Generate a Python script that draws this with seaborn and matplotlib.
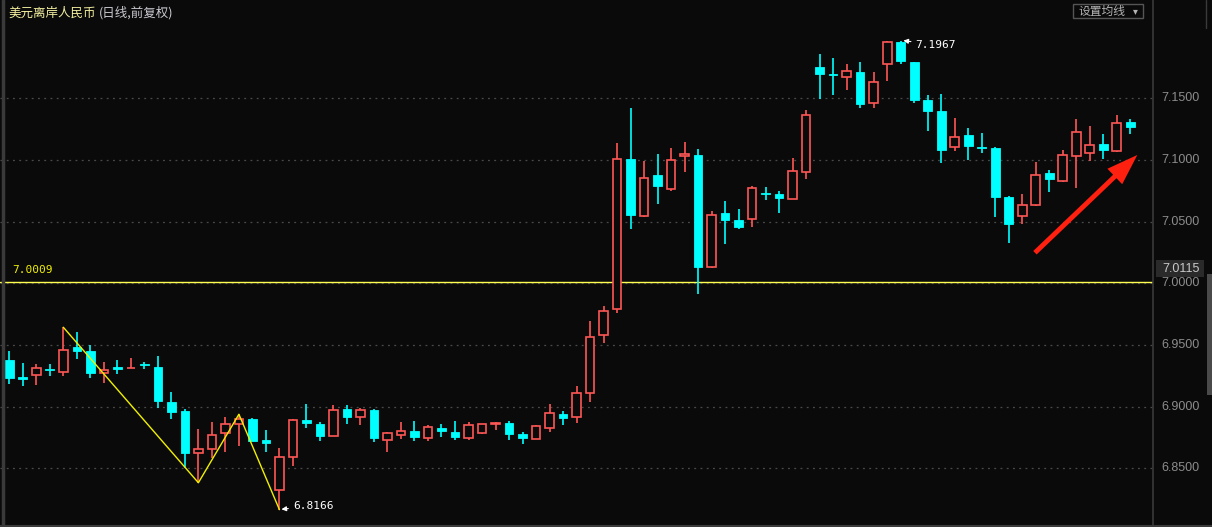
import numpy as np
import pandas as pd
import matplotlib
matplotlib.use('Agg')
import matplotlib.pyplot as plt
from matplotlib.patches import Rectangle
import seaborn as sns

# 美元离岸人民币 日线 (前复权) —— 读图得到的 OHLC
opens = [6.9379, 6.9243, 6.9255, 6.9306, 6.9284, 6.9482, 6.9452, 6.9276, 6.9320, 6.9310,
         6.9344, 6.9322, 6.9038, 6.8965, 6.8622, 6.8655, 6.8785, 6.8858, 6.8901, 6.8730,
         6.8323, 6.8590, 6.8890, 6.8860, 6.8760, 6.8982, 6.8914, 6.8976, 6.8733, 6.8773,
         6.8803, 6.8749, 6.8828, 6.8795, 6.8749, 6.8790, 6.8858, 6.8868, 6.8779, 6.8741,
         6.8830, 6.8941, 6.8914, 6.9109, 6.9579, 6.9795, 7.1008, 7.0548, 7.0878, 7.0762,
         7.1034, 7.1040, 7.0130, 7.0570, 7.0513, 7.0519, 7.0732, 7.0724, 7.0686, 7.0905,
         7.1753, 7.1699, 7.1670, 7.1713, 7.1459, 7.1775, 7.1956, 7.1794, 7.1486, 7.1397,
         7.1102, 7.1202, 7.1105, 7.1097, 7.0699, 7.0543, 7.0637, 7.0894, 7.0832, 7.1034,
         7.1054, 7.1129, 7.1075, 7.1305]
highs = [6.9452, 6.9354, 6.9346, 6.9346, 6.9644, 6.9603, 6.9500, 6.9363, 6.9379, 6.9397,
         6.9365, 6.9411, 6.9119, 6.8979, 6.8820, 6.8876, 6.8917, 6.8939, 6.8909, 6.8812,
         6.8663, 6.8901, 6.9022, 6.8874, 6.9014, 6.9014, 6.8987, 6.8982, 6.8793, 6.8876,
         6.8884, 6.8850, 6.8860, 6.8884, 6.8876, 6.8860, 6.8876, 6.8884, 6.8795, 6.8850,
         6.9022, 6.8965, 6.9168, 6.9695, 6.9816, 7.1137, 7.1421, 7.0991, 7.1048, 7.1097,
         7.1145, 7.1089, 7.0584, 7.0667, 7.0602, 7.0789, 7.0781, 7.0748, 7.1016, 7.1405,
         7.1858, 7.1826, 7.1777, 7.1794, 7.1713, 7.1962, 7.1967, 7.1794, 7.1526, 7.1534,
         7.1340, 7.1259, 7.1218, 7.1105, 7.0708, 7.0724, 7.0983, 7.0918, 7.1081, 7.1332,
         7.1275, 7.1210, 7.1364, 7.1332]
lows = [6.9182, 6.9170, 6.9178, 6.9251, 6.9251, 6.9389, 6.9235, 6.9190, 6.9267, 6.9310,
        6.9308, 6.8992, 6.8903, 6.8501, 6.8384, 6.8582, 6.8636, 6.8684, 6.8722, 6.8636,
        6.8166, 6.8522, 6.8830, 6.8725, 6.8759, 6.8863, 6.8852, 6.8717, 6.8636, 6.8741,
        6.8725, 6.8725, 6.8757, 6.8733, 6.8733, 6.8782, 6.8814, 6.8733, 6.8701, 6.8741,
        6.8798, 6.8852, 6.8871, 6.9041, 6.9519, 6.9762, 7.0440, 7.0540, 7.0645, 7.0746,
        7.0905, 6.9916, 7.0126, 7.0322, 7.0443, 7.0459, 7.0675, 7.0572, 7.0686, 7.0848,
        7.1496, 7.1529, 7.1569, 7.1423, 7.1423, 7.1642, 7.1780, 7.1464, 7.1237, 7.0978,
        7.1075, 7.1002, 7.1059, 7.0540, 7.0329, 7.0478, 7.0629, 7.0743, 7.0824, 7.0775,
        7.0994, 7.1010, 7.1067, 7.1213]
closes = [6.9235, 6.9227, 6.9311, 6.9300, 6.9457, 6.9454, 6.9276, 6.9298, 6.9308, 6.9314,
          6.9338, 6.9049, 6.8960, 6.8627, 6.8655, 6.8768, 6.8860, 6.8901, 6.8725, 6.8709,
          6.8590, 6.8890, 6.8871, 6.8765, 6.8971, 6.8914, 6.8971, 6.8744, 6.8785, 6.8801,
          6.8757, 6.8834, 6.8806, 6.8757, 6.8850, 6.8858, 6.8868, 6.8782, 6.8749, 6.8842,
          6.8947, 6.8911, 6.9109, 6.9563, 6.9773, 7.1005, 7.0554, 7.0851, 7.0791, 7.0997,
          7.1048, 7.0135, 7.0551, 7.0516, 7.0459, 7.0772, 7.0726, 7.0694, 7.0908, 7.1362,
          7.1699, 7.1691, 7.1718, 7.1456, 7.1629, 7.1958, 7.1804, 7.1488, 7.1399, 7.1083,
          7.1183, 7.1115, 7.1099, 7.0702, 7.0483, 7.0632, 7.0875, 7.0848, 7.1038, 7.1224,
          7.1119, 7.1083, 7.1297, 7.1269]

# 折线 (ZigZag) 转折点
zz_idx = [4, 14, 17, 20]
zz_val = [6.9644, 6.8384, 6.8939, 6.8166]

y_ticks = [6.85, 6.90, 6.95, 7.00, 7.05, 7.10, 7.15]
ref_price = 7.0009
last_label = 7.0115
max_label = 7.1967
min_label = 6.8166

df = pd.DataFrame({'open': opens, 'high': highs, 'low': lows, 'close': closes})
df['i'] = np.arange(len(df))
df['up'] = df['close'] >= df['open']

BG = '#0a0a0a'
UP = '#ff5656'
DN = '#00ffff'
GRID = '#4a4a4a'

sns.set_theme(style='dark')
plt.rcParams['font.family'] = ['Noto Sans CJK SC', 'DejaVu Sans']

W, H = 1212, 527
fig = plt.figure(figsize=(W / 100, H / 100), dpi=100, facecolor=BG)
ax = fig.add_axes([0, 0, 1153 / W, 1])
ax.set_facecolor(BG)
for s in ax.spines.values():
    s.set_visible(False)

# 坐标: 第 i 根 K 线在 9.3 + 13.506*i 像素处
step = 13.506
ytop = 7.2296
ax.set_xlim(-9.3 / step, (1153 - 9.3) / step)
ax.set_ylim(ytop - H / 1234, ytop)
ax.set_xticks([])
ax.set_yticks([])

# 网格虚线
for t in y_ticks:
    ax.axhline(t, color=GRID, lw=0.9, ls=(0, (1.5, 3.5)), zorder=1)

# 影线
bw = 0.64
up = df[df['up']]
dn = df[~df['up']]
ax.vlines(dn['i'], dn['low'], dn['high'], color=DN, lw=1.2, zorder=3)
ax.vlines(up['i'], up['close'], up['high'], color=UP, lw=1.2, zorder=3)
ax.vlines(up['i'], up['low'], up['open'], color=UP, lw=1.2, zorder=3)

# 实体
dn_h = np.maximum(dn['open'] - dn['close'], 0.00035)
ax.bar(dn['i'], dn_h, bottom=dn['close'], width=bw, color=DN, edgecolor=DN,
       linewidth=0.6, zorder=4)
up_h = np.maximum(up['close'] - up['open'], 0.00035)
ax.bar(up['i'], up_h, bottom=up['open'], width=bw, color=BG, edgecolor=UP,
       linewidth=1.2, zorder=4)

# ZigZag
sns.lineplot(x=zz_idx, y=zz_val, ax=ax, color='#f0f000', lw=1.0, zorder=5,
             estimator=None, sort=False)

# 参考水平线
ax.axhline(ref_price, color='#ffff50', lw=1.0, zorder=2)
ax.text((12 - 9.3) / step, ref_price + 0.0055, '%.4f' % ref_price,
        color='#f0f000', fontsize=8, family='DejaVu Sans Mono', va='bottom')

# 最高/最低价标注
imax = int(np.argmax(highs))
imin = int(np.argmin(lows))
arrow = dict(arrowstyle='-|>', color='white', lw=0.8, mutation_scale=7,
             shrinkA=1, shrinkB=0)
ax.annotate('%.4f' % max_label, xy=(imax + 0.2, max_label),
            xytext=(imax + 1.1, max_label - 0.0035),
            color='white', fontsize=8, family='DejaVu Sans Mono', va='center',
            arrowprops=arrow)
ax.annotate('%.4f' % min_label, xy=(imin + 0.15, min_label + 0.0003),
            xytext=(imin + 1.0, min_label + 0.0030),
            color='white', fontsize=8, family='DejaVu Sans Mono', va='center',
            arrowprops=arrow)

# 红色箭头
ax.annotate('', xy=(83.52, 7.1040), xytext=(75.94, 7.0248),
            arrowprops=dict(arrowstyle='simple,head_width=1.1,head_length=1.6,tail_width=0.25',
                            color='#ff2010', lw=0, mutation_scale=14,
                            shrinkA=0, shrinkB=0), zorder=6)

# 标题
ax.text((8 - 9.3) / step, ytop - 13 / 1234, '美元离岸人民币',
        color='#f5f0a0', fontsize=9, va='center', ha='left')
ax.text((99 - 9.3) / step, ytop - 13 / 1234, '(日线,前复权)',
        color='#c8c8d0', fontsize=9, va='center', ha='left')

# 边框与右侧价格轴
fig.add_artist(plt.Line2D([1153 / W, 1153 / W], [0, 1], color='#3a3a3a', lw=1.2))
fig.add_artist(plt.Line2D([3 / W, 3 / W], [0, 1], color='#3a3a3a', lw=2.5))
fig.add_artist(plt.Line2D([1206 / W, 1206 / W], [1 - 28 / H, 1], color='#3a3a3a', lw=1))
fig.add_artist(plt.Line2D([0, 1], [1.5 / H, 1.5 / H], color='#3a3a3a', lw=1.5))


def fy(p):
    return (p - (ytop - H / 1234)) * 1234 / H


for t in y_ticks:
    fig.text(1200 / W, fy(t), '%.4f' % t, color='#8c8c8c', fontsize=9,
             family='Liberation Sans', ha='right', va='center')

fig.add_artist(Rectangle((1156 / W, fy(last_label) - 8 / H), 48 / W, 17 / H,
                         transform=fig.transFigure, facecolor='#2a2a2a', edgecolor='none'))
fig.text(1200 / W, fy(last_label), '%.4f' % last_label, color='#c8c8c8', fontsize=9,
         family='Liberation Sans', ha='right', va='center')

# 滚动条
fig.add_artist(Rectangle((1207 / W, 1 - 395 / H), 5 / W, 121 / H,
                         transform=fig.transFigure, facecolor='#4a4a4a', edgecolor='none'))

# 设置均线 按钮
fig.add_artist(Rectangle((1073 / W, 1 - 18 / H), 70 / W, 14 / H,
                         transform=fig.transFigure, facecolor=BG, edgecolor='#555555', lw=1))
fig.text(1079 / W, 1 - 11 / H, '设置均线', color='#b4b4b4', fontsize=8.5, va='center')
fig.text(1133 / W, 1 - 11 / H, '▾', color='#b4b4b4', fontsize=7, va='center',
         family='DejaVu Sans')

fig.savefig('out.png', dpi=100, facecolor=BG)
